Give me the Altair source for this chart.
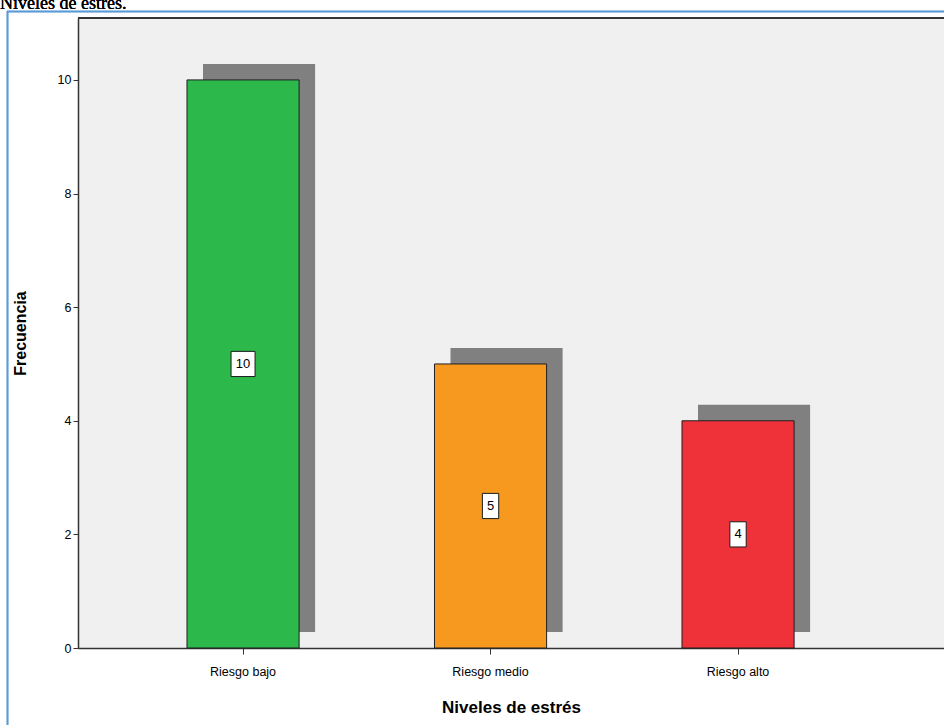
import altair as alt
import pandas as pd

# Stress level categories and their frequencies
niveles = ["Riesgo bajo", "Riesgo medio", "Riesgo alto"]
frecuencias = [10, 5, 4]
colores = ["#2db84b", "#f7991e", "#ef3239"]

W, H = 866, 630
Y_MAX = 11.09

df = pd.DataFrame({"nivel": niveles, "frecuencia": frecuencias, "color": colores})
df["etiqueta"] = df["frecuencia"].astype(str)
df["digitos"] = df["etiqueta"].str.len().astype(str)

x_scale = alt.Scale(domain=niveles, paddingInner=0.547, paddingOuter=0.523, align=0.421)
y_scale = alt.Scale(domain=[0, Y_MAX], nice=False, zero=True)

x_enc = alt.X(
    "nivel:N",
    scale=x_scale,
    sort=niveles,
    title="Niveles de estrés",
    axis=alt.Axis(
        labelAngle=0,
        labelFont="Liberation Sans",
        labelFontSize=12.5,
        labelColor="#000000",
        labelPadding=11,
        tickSize=6,
        tickColor="#333333",
        domainColor="#333333",
        domainWidth=1.5,
        titleFont="Liberation Sans",
        titleFontSize=17,
        titleFontWeight="bold",
        titleColor="#000000",
        titlePadding=22,
    ),
)

y_enc = alt.Y(
    "frecuencia:Q",
    scale=y_scale,
    title="Frecuencia",
    axis=alt.Axis(
        values=[0, 2, 4, 6, 8, 10],
        format="d",
        grid=False,
        labelFont="Liberation Sans",
        labelFontSize=12.5,
        labelColor="#000000",
        labelPadding=2,
        tickSize=5,
        tickColor="#333333",
        domainColor="#333333",
        domainWidth=1.5,
        titleFont="Liberation Sans",
        titleFontSize=16,
        titleFontWeight="bold",
        titleColor="#000000",
        titlePadding=29,
    ),
)

base = alt.Chart(df)

# Drop shadow behind each bar
sombra = base.mark_bar(
    color="#808080", xOffset=16, x2Offset=16, yOffset=-16, y2Offset=-16
).encode(x=x_enc, y=y_enc)

barras = base.mark_bar(stroke="#1f1f1f", strokeWidth=1).encode(
    x=x_enc,
    y=y_enc,
    color=alt.Color("color:N", scale=None),
)

# White label boxes at mid-height of each bar
caja_1 = "M-0.68,-1.05H0.68V1.05H-0.68Z"
caja_2 = "M-1,-1.05H1V1.05H-1Z"
cajas = base.mark_point(
    filled=True, fill="white", stroke="#1a1a1a", strokeWidth=1, opacity=1, size=576
).encode(
    x=alt.X("nivel:N", scale=x_scale, sort=niveles),
    y=alt.Y("mitad:Q", scale=y_scale),
    shape=alt.Shape("digitos:N", scale=alt.Scale(domain=["1", "2"], range=[caja_1, caja_2]), legend=None),
).transform_calculate(mitad="datum.frecuencia / 2")

textos = base.mark_text(
    font="Liberation Sans", fontSize=13, color="#000000", baseline="middle", align="center"
).encode(
    x=alt.X("nivel:N", scale=x_scale, sort=niveles),
    y=alt.Y("mitad:Q", scale=y_scale),
    text="etiqueta:N",
).transform_calculate(mitad="datum.frecuencia / 2")

# Top border of the plot frame
borde_sup = alt.Chart(df).mark_rule(color="#333333", strokeWidth=1.5).encode(
    x=alt.value(0), x2=alt.value(W), y=alt.value(0)
)

# Outer light-blue frame
marco_izq = alt.Chart(df).mark_rule(color="#5b9bd5", strokeWidth=1.5).encode(
    x=alt.value(-70.5), y=alt.value(-7), y2=alt.value(H + 80)
)
marco_sup = alt.Chart(df).mark_rule(color="#5b9bd5", strokeWidth=1.5).encode(
    x=alt.value(-71), x2=alt.value(W + 10), y=alt.value(-6.5)
)

# Heading above the frame
encabezado = alt.Chart(df).mark_text(
    font="Liberation Serif", fontSize=18, color="#000000", align="left", baseline="alphabetic"
).encode(
    x=alt.value(-78), y=alt.value(-9), text=alt.value("Niveles de estrés.")
)

chart = (
    alt.layer(sombra, barras, cajas, textos, borde_sup, marco_izq, marco_sup, encabezado)
    .properties(
        width=W,
        height=H,
        autosize=alt.AutoSizeParams(type="none"),
        padding={"left": 78, "top": 18, "right": 0, "bottom": 77},
        background="white",
    )
    .configure_view(fill="#f0f0f0", stroke=None)
)

chart.save("out.html", embed_options={"renderer": "svg", "actions": False})
